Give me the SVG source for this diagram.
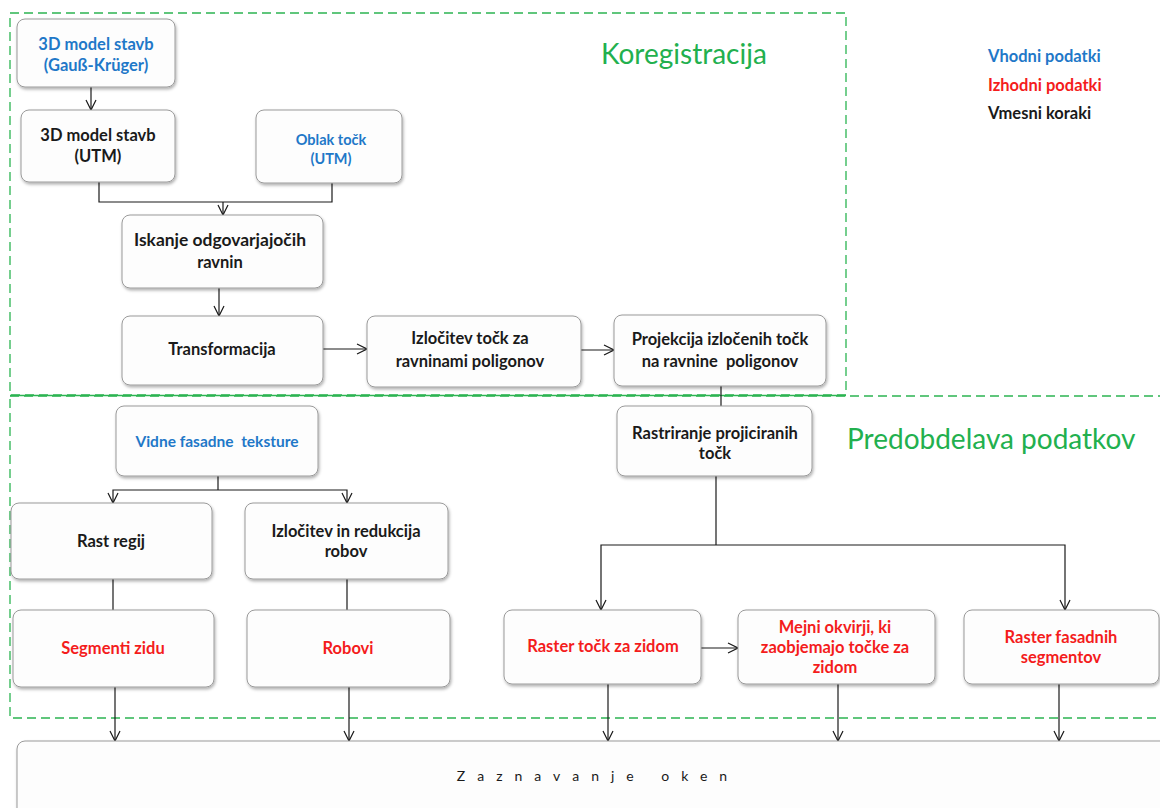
<svg xmlns="http://www.w3.org/2000/svg" width="1160" height="808" viewBox="0 0 1160 808">
<style>
.node rect{fill:#fdfdfd;stroke:#9a9a9a;stroke-width:1;filter:url(#sh)}
.t{font-family:Lato,"Liberation Sans",sans-serif;font-weight:bold;font-size:16.5px;text-anchor:middle}
.pre{white-space:pre}
.blue{fill:#1f78c8}
.red{fill:#f41c1c}
.blk{fill:#1a1a1a}
.grp{fill:none;stroke:#2cb452;stroke-width:1.3;stroke-dasharray:9 5}
.title{font-family:Lato,"Liberation Sans",sans-serif;font-size:28px;fill:#22b04e}
.leg{font-family:Lato,"Liberation Sans",sans-serif;font-weight:bold;font-size:16.5px}
#connectors path{fill:none;stroke:#1a1a1a;stroke-width:1.2}
</style>
<defs>
<filter id="sh" x="-10%" y="-10%" width="130%" height="140%">
<feDropShadow dx="1" dy="2" stdDeviation="1.5" flood-color="#000" flood-opacity="0.3"/>
</filter>
<marker id="arr" viewBox="0 0 12 12" refX="11" refY="6" markerWidth="12" markerHeight="12" markerUnits="userSpaceOnUse" orient="auto">
<path d="M1,1 L11,6 L1,11" fill="none" stroke="#1a1a1a" stroke-width="1.2"/>
</marker>
</defs>
<rect width="1160" height="808" fill="#ffffff"/>

<g id="groups">
<rect class="grp" x="10" y="13" width="836" height="382"/>
<rect class="grp" x="10" y="396" width="1175" height="322"/>
<line x1="10" y1="395.5" x2="846" y2="395.5" stroke="#2cb452" stroke-width="1.5"/>
<text class="title" x="601" y="64">Koregistracija</text>
<text class="title" x="847" y="449">Predobdelava podatkov</text>
</g>

<g id="legend">
<text class="leg blue" x="988" y="62">Vhodni podatki</text>
<text class="leg red" x="988" y="91">Izhodni podatki</text>
<text class="leg blk" x="988" y="119">Vmesni koraki</text>
</g>

<g id="connectors">
<path d="M91,87 V110" marker-end="url(#arr)"/>
<path d="M99,182 V202 H332 V183"/>
<path d="M223,202 V215" marker-end="url(#arr)"/>
<path d="M219,288 V316" marker-end="url(#arr)"/>
<path d="M323,349 H367" marker-end="url(#arr)"/>
<path d="M581,350 H614" marker-end="url(#arr)"/>
<path d="M721,386 V406"/>
<path d="M218,476 V490"/>
<path d="M218,490 H113 V503" marker-end="url(#arr)"/>
<path d="M218,490 H347 V503" marker-end="url(#arr)"/>
<path d="M113,579 V610"/>
<path d="M347,579 V610"/>
<path d="M716,476 V545"/>
<path d="M716,545 H601 V610" marker-end="url(#arr)"/>
<path d="M716,545 H1065 V610" marker-end="url(#arr)"/>
<path d="M701,648 H738" marker-end="url(#arr)"/>
<path d="M115,687 V741" marker-end="url(#arr)"/>
<path d="M349,687 V741" marker-end="url(#arr)"/>
<path d="M608,684 V741" marker-end="url(#arr)"/>
<path d="M838,684 V741" marker-end="url(#arr)"/>
<path d="M1059,684 V741" marker-end="url(#arr)"/>
</g>

<g id="n1" class="node"><rect x="17" y="19" width="158" height="68" rx="8"/>
<text class="t blue" x="96" y="50">3D model stavb</text><text class="t blue" x="96" y="71">(Gauß-Krüger)</text></g>

<g id="n2" class="node"><rect x="21" y="110" width="154" height="72" rx="8"/>
<text class="t blk" x="98" y="141">3D model stavb</text><text class="t blk" x="98" y="162">(UTM)</text></g>

<g id="n3" class="node"><rect x="256" y="110" width="146" height="73" rx="8"/>
<text class="t blue" x="331" y="145" style="font-size:14.5px">Oblak točk</text><text class="t blue" x="331" y="164" style="font-size:14.5px">(UTM)</text></g>

<g id="n4" class="node"><rect x="122" y="215" width="201" height="73" rx="8"/>
<text class="t blk" x="220" y="246" textLength="172" lengthAdjust="spacingAndGlyphs">Iskanje odgovarjajočih</text><text class="t blk" x="220" y="268">ravnin</text></g>

<g id="n5" class="node"><rect x="122" y="316" width="201" height="69" rx="8"/>
<text class="t blk" x="222" y="355">Transformacija</text></g>

<g id="n6" class="node"><rect x="367" y="316" width="214" height="71" rx="8"/>
<text class="t blk" x="470" y="344">Izločitev točk za</text><text class="t blk" x="470" y="367">ravninami poligonov</text></g>

<g id="n7" class="node"><rect x="614" y="315" width="212" height="71" rx="8"/>
<text class="t blk" x="720" y="345">Projekcija izločenih točk</text><text class="t blk pre" x="720" y="367">na ravnine  poligonov</text></g>

<g id="n8" class="node"><rect x="617" y="406" width="195" height="70" rx="8"/>
<text class="t blk" x="715" y="439">Rastriranje projiciranih</text><text class="t blk" x="715" y="459">točk</text></g>

<g id="n9" class="node"><rect x="116" y="406" width="202" height="70" rx="8"/>
<text class="t blue pre" x="217" y="447" style="font-size:15.5px">Vidne fasadne  teksture</text></g>

<g id="n10" class="node"><rect x="11" y="503" width="201" height="76" rx="8"/>
<text class="t blk" x="111" y="547">Rast regij</text></g>

<g id="n11" class="node"><rect x="245" y="503" width="203" height="76" rx="8"/>
<text class="t blk" x="346" y="537">Izločitev in redukcija</text><text class="t blk" x="346" y="557">robov</text></g>

<g id="n12" class="node"><rect x="13" y="610" width="201" height="77" rx="8"/>
<text class="t red" x="113" y="654">Segmenti zidu</text></g>

<g id="n13" class="node"><rect x="247" y="610" width="203" height="77" rx="8"/>
<text class="t red" x="348" y="654">Robovi</text></g>

<g id="n14" class="node"><rect x="504" y="610" width="197" height="74" rx="8"/>
<text class="t red" x="603" y="652">Raster točk za zidom</text></g>

<g id="n15" class="node"><rect x="738" y="610" width="197" height="74" rx="8"/>
<text class="t red" x="835" y="633">Mejni okvirji, ki</text><text class="t red" x="835" y="653">zaobjemajo točke za</text><text class="t red" x="835" y="673">zidom</text></g>

<g id="n16" class="node"><rect x="964" y="610" width="195" height="74" rx="8"/>
<text class="t red" x="1061" y="643">Raster fasadnih</text><text class="t red" x="1061" y="663">segmentov</text></g>

<g id="n17" class="node"><rect x="17" y="741" width="1160" height="80" rx="8"/>
<text class="t blk" x="598" y="781" style="font-weight:normal;font-size:14px;letter-spacing:12px">Zaznavanje oken</text></g>
</svg>
